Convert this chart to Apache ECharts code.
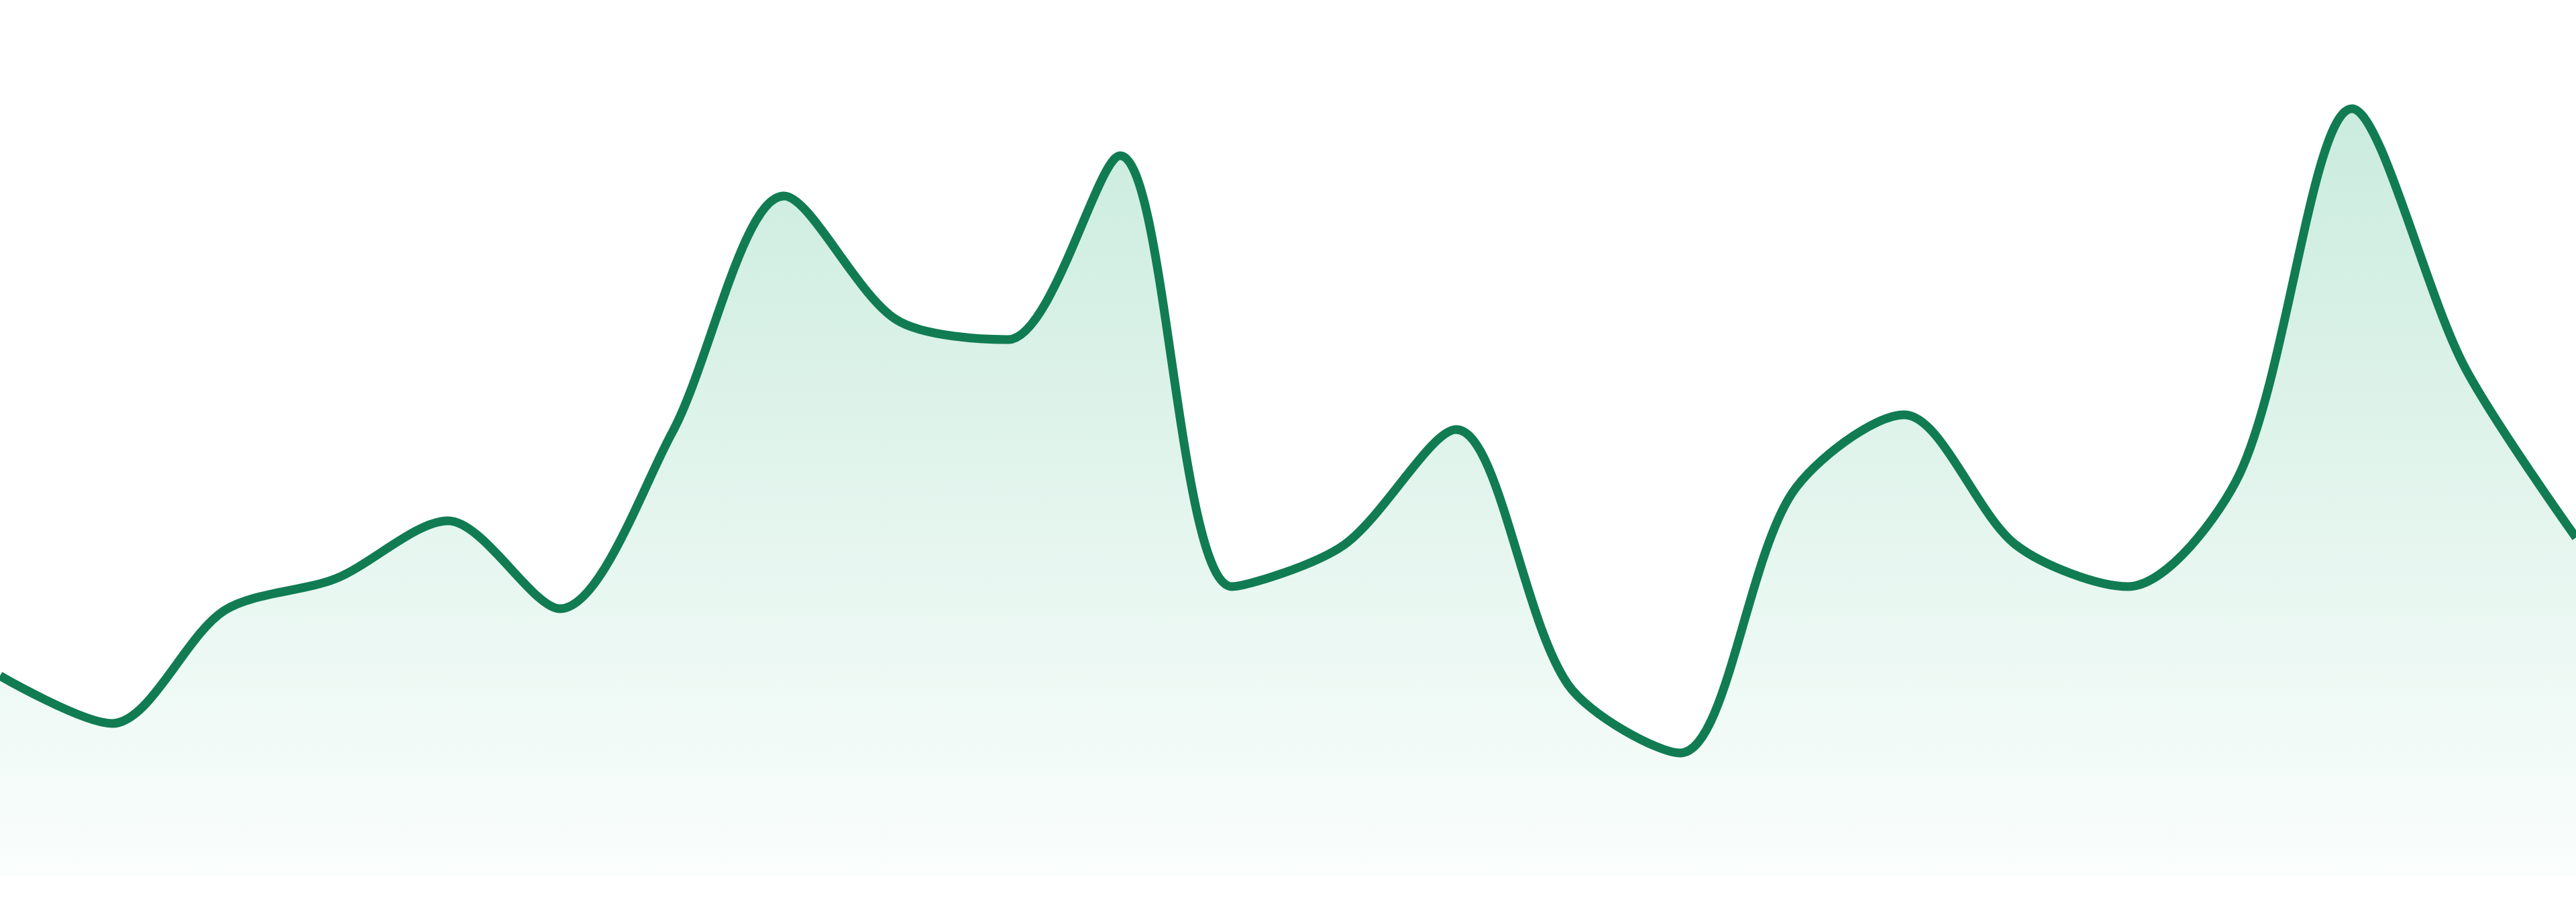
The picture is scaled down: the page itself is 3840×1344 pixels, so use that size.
<!DOCTYPE html>
<html>
<head>
<meta charset="utf-8">
<script src="https://cdn.jsdelivr.net/npm/echarts@6/dist/echarts.min.js"></script>
<style>
  html, body { margin: 0; padding: 0; background: #ffffff; }
  #chart { width: 3840px; height: 1344px; }
</style>
</head>
<body>
<div id="chart"></div>
<script>
const categories = ['1','2','3','4','5','6','7','8','9','10','11','12','13','14','15','16','17','18','19','20','21','22','23','24'];
const values = [29.8, 22.7, 39.5, 44.3, 52.9, 39.8, 66.0, 101.3, 82.9, 79.9, 107.3, 43.1, 49.3, 66.5, 28.5, 18.3, 57.0, 68.7, 49.3, 43.1, 60.0, 114.3, 76.0, 50.4];
const yMin = 0;
const yMax = 130.5;

const chart = echarts.init(document.getElementById('chart'), null, { renderer: 'canvas' });
chart.setOption({
  backgroundColor: '#ffffff',
  animation: false,
  grid: { left: 0, right: 0, top: 0, bottom: 39, containLabel: false },
  xAxis: {
    type: 'category',
    data: categories,
    boundaryGap: false,
    show: false
  },
  yAxis: {
    type: 'value',
    min: yMin,
    max: yMax,
    show: false,
    splitLine: { show: false }
  },
  series: [{
    type: 'line',
    data: values,
    smooth: 0.3,
    showSymbol: false,
    lineStyle: { color: '#117c52', width: 13 },
    itemStyle: { color: '#117c52' },
    areaStyle: {
      color: new echarts.graphic.LinearGradient(0, 0, 0, 1, [
        { offset: 0, color: 'rgb(180,227,208)' },
        { offset: 1, color: 'rgb(248,253,251)' }
      ])
    }
  }]
});
</script>
</body>
</html>
